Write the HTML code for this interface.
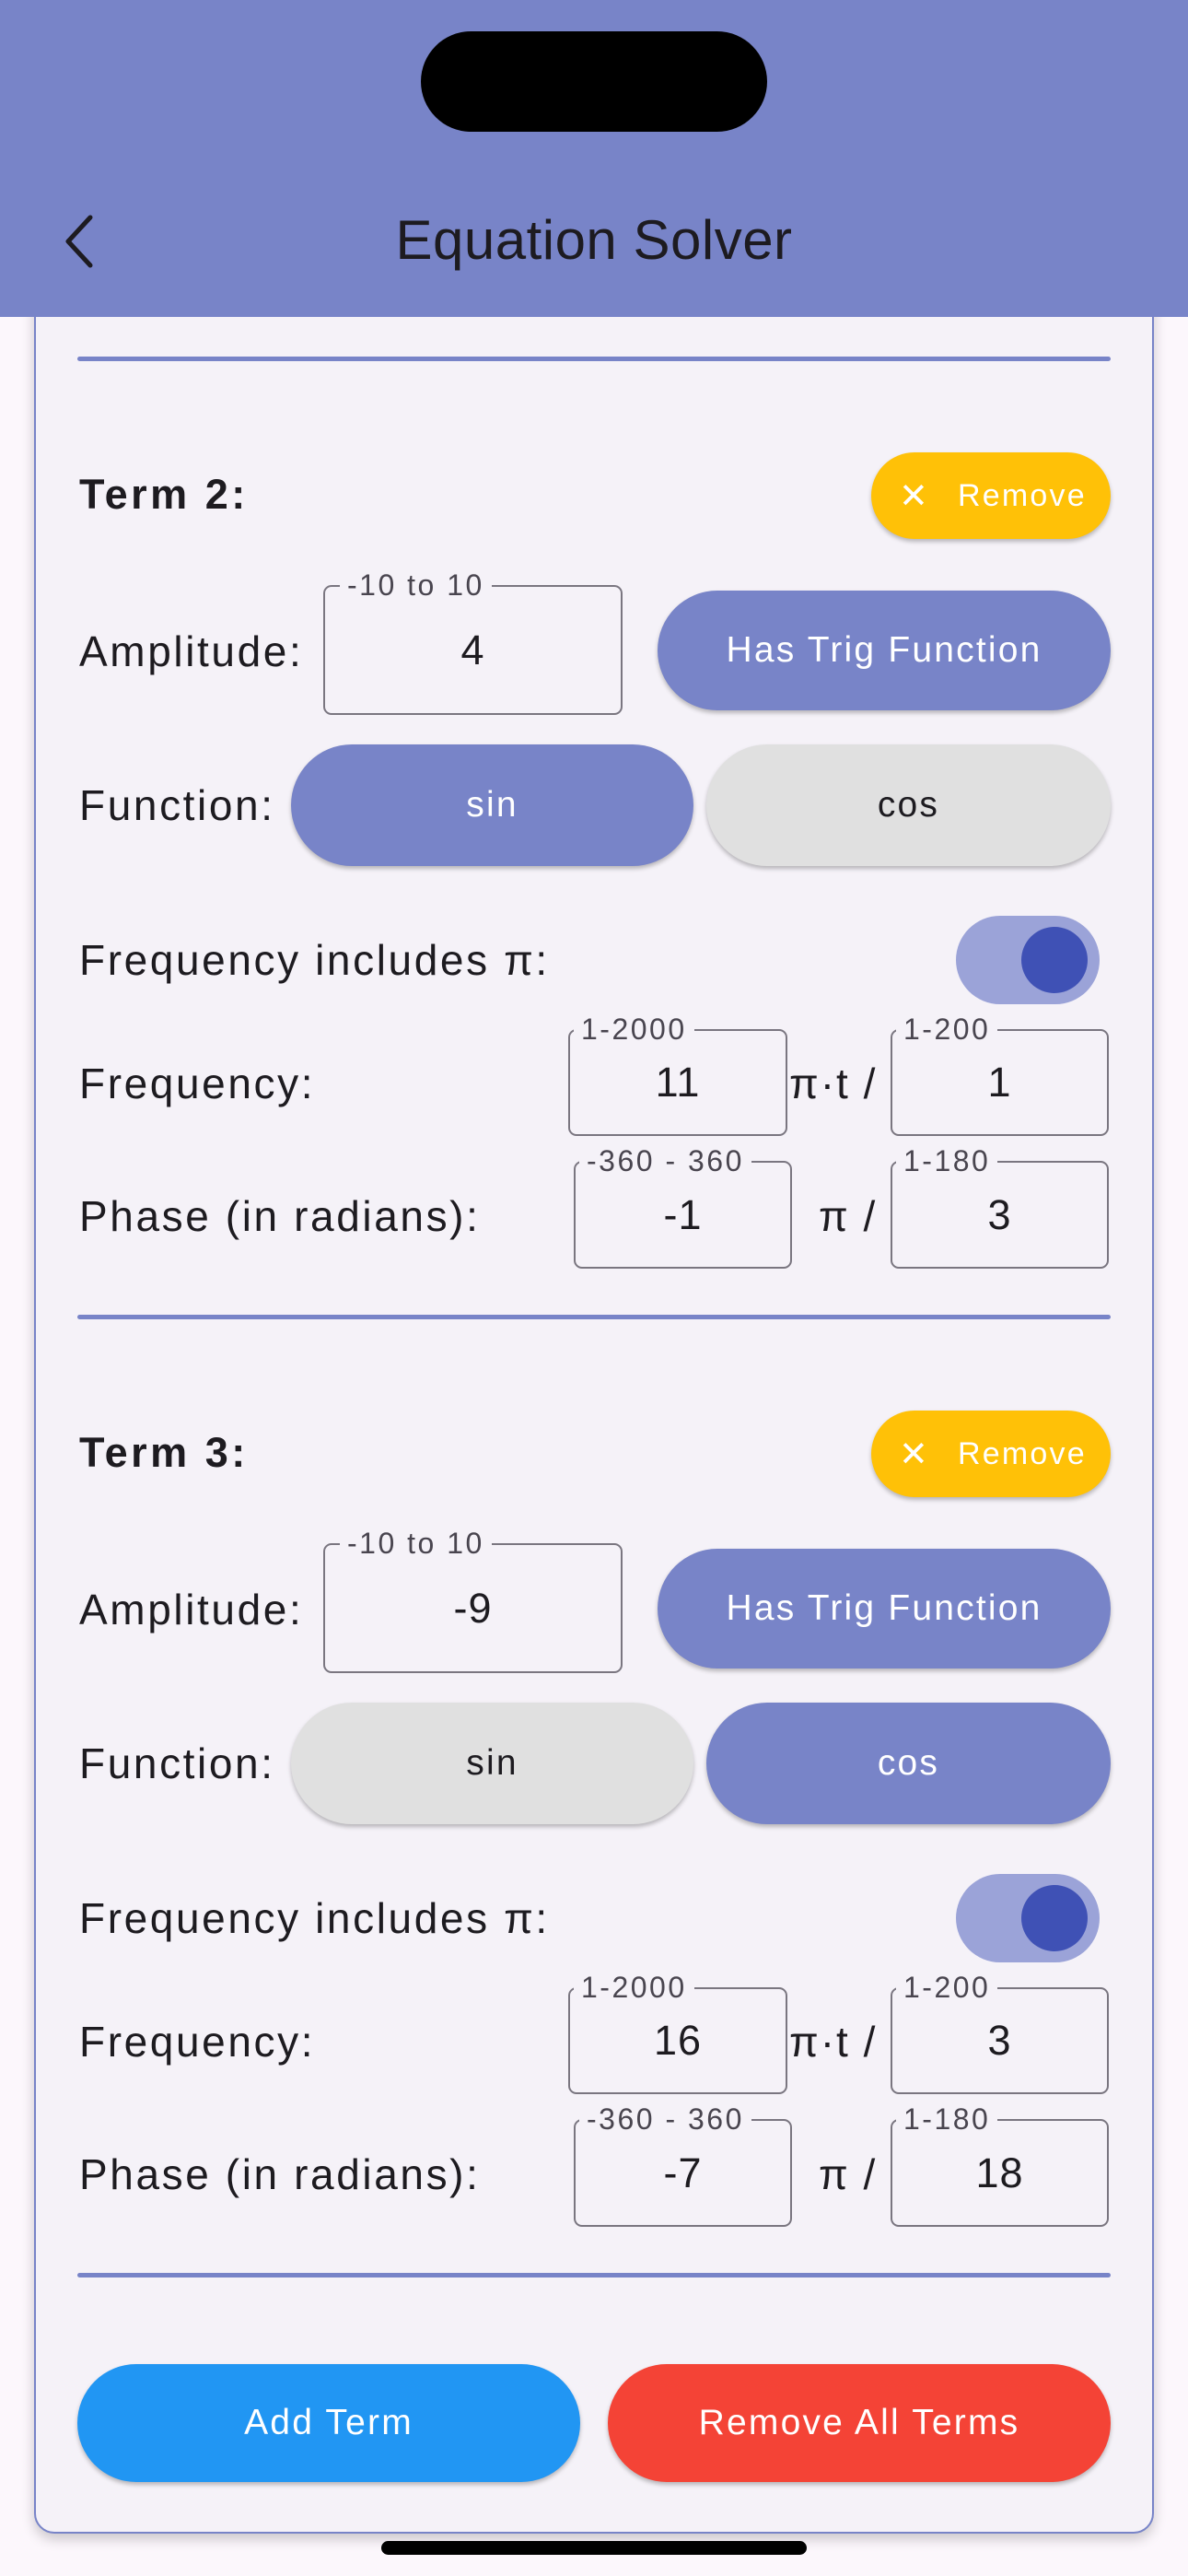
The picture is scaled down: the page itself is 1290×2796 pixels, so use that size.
<!DOCTYPE html>
<html><head><meta charset="utf-8"><style>
*{margin:0;padding:0;box-sizing:border-box}
body{width:1290px;height:2796px;background:#FCF7FC;position:relative;overflow:hidden;font-family:"Liberation Sans",sans-serif;color:#1D1B20}
.abs{position:absolute}
.hdr{left:0;top:0;width:1290px;height:344px;background:#7884C8;z-index:2}
.island{left:457px;top:34px;width:376px;height:109px;background:#000;border-radius:55px}
.title{left:0;width:1290px;top:226px;text-align:center;font-size:60px;color:#1D1B20;letter-spacing:0.5px}
.card{left:37px;top:300px;width:1216px;height:2450px;background:#F5F2F8;border:2px solid #7884C8;border-radius:22px;box-shadow:0 6px 14px rgba(0,0,0,.2)}
.div{left:84px;width:1122px;height:5px;background:#7884C8;border-radius:3px}
.term{left:0;width:1290px;height:1040px}
.lbl{font-size:46px;line-height:50px;left:86px;transform:translateY(-50%);white-space:nowrap;letter-spacing:2.6px}
.bold{font-weight:bold;font-size:45px;letter-spacing:3.5px}
.btn{display:flex;align-items:center;justify-content:center;border-radius:70px;color:#fff;font-size:39px;letter-spacing:2.2px;box-shadow:0 3px 5px rgba(0,0,0,.25)}
.box{border:2px solid #7A7680;border-radius:9px;display:flex;align-items:center;justify-content:center;font-size:45px;letter-spacing:1px}
.fl{position:absolute;top:-22px;background:#F5F2F8;font-size:32px;color:#49454F;padding:0 8px;line-height:40px;letter-spacing:2.5px}
.pi{font-size:46px;transform:translateY(-50%);letter-spacing:2px}
</style></head><body>
<div class="abs card"></div>
<div class="abs hdr"></div>
<div class="abs island" style="z-index:3"></div>
<svg class="abs" style="left:62px;top:230px;z-index:3" width="50" height="64"><polyline points="36,6 12,32 36,58" fill="none" stroke="#1D1B20" stroke-width="5" stroke-linecap="round" stroke-linejoin="round"/></svg>
<div class="abs title" style="z-index:3">Equation Solver</div>

<div class="abs div" style="top:387px"></div>

<!-- TERM 2 -->
<div class="abs term" style="top:389px">
 <div class="abs lbl bold" style="top:148px">Term 2:</div>
 <div class="abs btn" style="left:946px;top:102px;width:260px;height:94px;background:#FFC107;font-size:34px;justify-content:flex-start;padding-left:30px"><span style="font-size:38px;margin-right:30px">✕</span>Remove</div>
 <div class="abs lbl" style="top:318px">Amplitude:</div>
 <div class="abs box" style="left:351px;top:246px;width:325px;height:141px">4<span class="fl" style="left:16px">-10 to 10</span></div>
 <div class="abs btn" style="left:714px;top:252px;width:492px;height:130px;background:#7884C8">Has Trig Function</div>
 <div class="abs lbl" style="top:485px">Function:</div>
 <div class="abs btn" style="left:316px;top:419px;width:437px;height:132px;background:#7884C8">sin</div>
 <div class="abs btn" style="left:767px;top:419px;width:439px;height:132px;background:#E0E0E0;color:#1D1B20">cos</div>
 <div class="abs lbl" style="top:653px">Frequency includes π:</div>
 <div class="abs" style="left:1038px;top:605px;width:156px;height:96px;border-radius:48px;background:#9BA3D8"></div>
 <div class="abs" style="left:1109px;top:617px;width:72px;height:72px;border-radius:50%;background:#3F51B5"></div>
 <div class="abs lbl" style="top:787px">Frequency:</div>
 <div class="abs box" style="left:617px;top:728px;width:238px;height:116px">11<span class="fl" style="left:4px">1-2000</span></div>
 <div class="abs pi" style="left:857px;top:787px">π·t /</div>
 <div class="abs box" style="left:967px;top:728px;width:237px;height:116px">1<span class="fl" style="left:4px">1-200</span></div>
 <div class="abs lbl" style="top:931px">Phase (in radians):</div>
 <div class="abs box" style="left:623px;top:871px;width:237px;height:117px">-1<span class="fl" style="left:4px">-360 - 360</span></div>
 <div class="abs pi" style="left:889px;top:931px">π /</div>
 <div class="abs box" style="left:967px;top:871px;width:237px;height:117px">3<span class="fl" style="left:4px">1-180</span></div>
 <div class="abs div" style="top:1038px"></div>
</div>

<!-- TERM 3 -->
<div class="abs term" style="top:1429px">
 <div class="abs lbl bold" style="top:148px">Term 3:</div>
 <div class="abs btn" style="left:946px;top:102px;width:260px;height:94px;background:#FFC107;font-size:34px;justify-content:flex-start;padding-left:30px"><span style="font-size:38px;margin-right:30px">✕</span>Remove</div>
 <div class="abs lbl" style="top:318px">Amplitude:</div>
 <div class="abs box" style="left:351px;top:246px;width:325px;height:141px">-9<span class="fl" style="left:16px">-10 to 10</span></div>
 <div class="abs btn" style="left:714px;top:252px;width:492px;height:130px;background:#7884C8">Has Trig Function</div>
 <div class="abs lbl" style="top:485px">Function:</div>
 <div class="abs btn" style="left:316px;top:419px;width:437px;height:132px;background:#E0E0E0;color:#1D1B20">sin</div>
 <div class="abs btn" style="left:767px;top:419px;width:439px;height:132px;background:#7884C8">cos</div>
 <div class="abs lbl" style="top:653px">Frequency includes π:</div>
 <div class="abs" style="left:1038px;top:605px;width:156px;height:96px;border-radius:48px;background:#9BA3D8"></div>
 <div class="abs" style="left:1109px;top:617px;width:72px;height:72px;border-radius:50%;background:#3F51B5"></div>
 <div class="abs lbl" style="top:787px">Frequency:</div>
 <div class="abs box" style="left:617px;top:728px;width:238px;height:116px">16<span class="fl" style="left:4px">1-2000</span></div>
 <div class="abs pi" style="left:857px;top:787px">π·t /</div>
 <div class="abs box" style="left:967px;top:728px;width:237px;height:116px">3<span class="fl" style="left:4px">1-200</span></div>
 <div class="abs lbl" style="top:931px">Phase (in radians):</div>
 <div class="abs box" style="left:623px;top:871px;width:237px;height:117px">-7<span class="fl" style="left:4px">-360 - 360</span></div>
 <div class="abs pi" style="left:889px;top:931px">π /</div>
 <div class="abs box" style="left:967px;top:871px;width:237px;height:117px">18<span class="fl" style="left:4px">1-180</span></div>
 <div class="abs div" style="top:1038px"></div>
</div>

<div class="abs btn" style="left:84px;top:2566px;width:546px;height:128px;background:#2196F3">Add Term</div>
<div class="abs btn" style="left:660px;top:2566px;width:546px;height:128px;background:#F44336">Remove All Terms</div>
<div class="abs" style="left:414px;top:2758px;width:462px;height:15px;border-radius:8px;background:#000"></div>
</body></html>
